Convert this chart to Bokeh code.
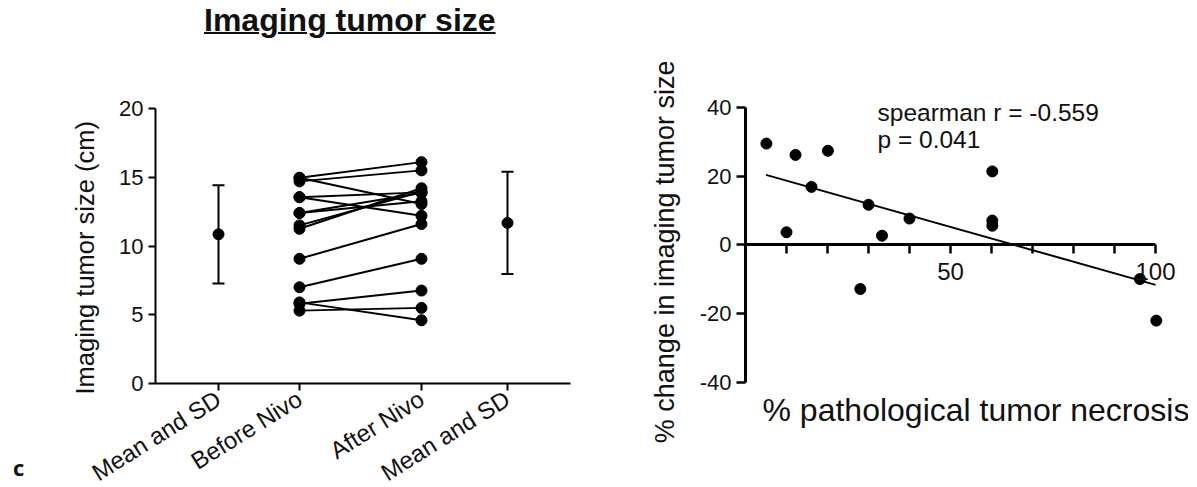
from bokeh.plotting import figure
from bokeh.models import FixedTicker, Whisker, TeeHead, ColumnDataSource, Label, Title, Div
from bokeh.layouts import row, column
from bokeh.embed import file_html
from bokeh.resources import INLINE

# ---------------- data ----------------
group_labels = ["Mean and SD", "Before Nivo", "After Nivo", "Mean and SD"]
before_nivo = [14.96, 14.70, 14.96, 13.55, 13.55, 12.40, 12.40, 11.50, 11.25, 9.07, 7.00, 5.80, 5.30, 5.90]
after_nivo = [16.10, 15.50, 13.05, 13.90, 12.20, 13.85, 13.25, 13.95, 14.20, 11.60, 9.07, 6.76, 5.50, 4.60]
summary_mean = [10.85, 11.68]
summary_sd = [3.57, 3.72]
left_yticks = [0, 5, 10, 15, 20]

necrosis_pct = [5.1, 10.0, 12.2, 16.1, 20.1, 28.0, 30.0, 33.3, 40.0, 60.2, 60.2, 60.2, 96.2, 100.2]
size_change_pct = [29.5, 3.7, 26.2, 16.9, 27.4, -12.8, 11.7, 2.7, 7.7, 21.4, 7.1, 5.6, -9.9, -22.0]
fit_x = [5.0, 100.0]
fit_y = [20.4, -11.6]
right_yticks = [-40, -20, 0, 20, 40]
right_ytick_labels = ["-40", "-20", "0", "20", "40"]
right_xticks_major = [50, 100]
right_xticks_minor = [10, 20, 30, 40, 60, 70, 80, 90]
stat_lines = ["spearman r = -0.559", "p = 0.041"]

# ---------------- layout constants ----------------
FONT = "Liberation Sans"
GROUP_POS = [63, 144, 266, 352]   # x positions of the four groups (px-like units)

# ---------------- panel letter + title ----------------
c_div = Div(
    text=("<div style=\"font-family:'Open Sans';font-weight:bold;font-size:22px;line-height:22px;"
          "margin-top:448px;margin-left:5px;color:#111\">c</div>"),
    width=20, height=470, margin=0,
)
title_div = Div(
    text=("<div style=\"font-family:'Liberation Sans';font-weight:bold;font-size:32px;"
          "line-height:32px;text-decoration:underline;text-decoration-thickness:2px;"
          "margin-left:176px;margin-top:-4px;white-space:nowrap;color:#111\">Imaging tumor size</div>"),
    width=552, height=40, margin=0,
)

# ---------------- left plot ----------------
p1 = figure(frame_width=415, frame_height=275, x_range=(0, 415), y_range=(0, 20),
            min_border_left=127, min_border_right=10, min_border_top=60, min_border_bottom=40,
            output_backend="svg", toolbar_location=None, outline_line_color=None)
p1.grid.visible = False

pair_src = ColumnDataSource(dict(
    x0=[GROUP_POS[1]] * len(before_nivo), x1=[GROUP_POS[2]] * len(after_nivo),
    y0=before_nivo, y1=after_nivo))
p1.segment(x0="x0", y0="y0", x1="x1", y1="y1", source=pair_src, line_color="black", line_width=2)
p1.scatter(x=[GROUP_POS[1]] * len(before_nivo), y=before_nivo, size=11, color="black")
p1.scatter(x=[GROUP_POS[2]] * len(after_nivo), y=after_nivo, size=11, color="black")

sum_src = ColumnDataSource(dict(
    x=[GROUP_POS[0], GROUP_POS[3]], y=summary_mean,
    lo=[m - s for m, s in zip(summary_mean, summary_sd)],
    hi=[m + s for m, s in zip(summary_mean, summary_sd)]))
p1.add_layout(Whisker(base="x", lower="lo", upper="hi", source=sum_src, line_width=2, line_color="black",
                      lower_head=TeeHead(size=12, line_width=2, line_color="black"),
                      upper_head=TeeHead(size=12, line_width=2, line_color="black")))
p1.scatter(x="x", y="y", source=sum_src, size=11, color="black")

for ax in (p1.xaxis[0], p1.yaxis[0]):
    ax.axis_line_width = 2
    ax.major_tick_line_width = 2
    ax.major_tick_out = 7
    ax.major_tick_in = 0
    ax.minor_tick_line_color = None
    ax.major_label_text_font = FONT
    ax.major_label_text_font_size = "22px"
    ax.major_label_text_color = "#111"

p1.yaxis.ticker = FixedTicker(ticks=left_yticks)
p1.yaxis.major_label_standoff = 5
p1.add_layout(Title(text="Imaging tumor size (cm)", align="left", offset=-11,
                    text_font=FONT, text_font_size="25.5px", text_font_style="normal",
                    text_color="#111", standoff=35), "left")

p1.xaxis.ticker = FixedTicker(ticks=GROUP_POS)
p1.xaxis.major_label_overrides = {pos: lab for pos, lab in zip(GROUP_POS, group_labels)}
p1.xaxis.major_label_orientation = 0.56
p1.xaxis.major_label_standoff = 6
p1.xaxis.major_label_text_font_size = "24px"

left_panel = column(title_div, p1, spacing=0)

# ---------------- right plot ----------------
p2 = figure(frame_width=435, frame_height=296, x_range=(0, 106.1), y_range=(-40, 46.1),
            min_border_left=165, min_border_right=8, min_border_top=78, min_border_bottom=75,
            output_backend="svg", toolbar_location=None, outline_line_color=None)
p2.grid.visible = False

p2.line(x=fit_x, y=fit_y, line_color="black", line_width=2)
p2.scatter(x=necrosis_pct, y=size_change_pct, size=11, color="black")

for ax in (p2.xaxis[0], p2.yaxis[0]):
    ax.axis_line_width = 3
    ax.major_tick_line_width = 2.5
    ax.minor_tick_line_width = 2.5
    ax.major_tick_out = 9
    ax.major_tick_in = 0
    ax.major_label_text_font = FONT
    ax.major_label_text_font_size = "22px"
    ax.major_label_text_color = "#111"

p2.yaxis.ticker = FixedTicker(ticks=right_yticks)
p2.yaxis.major_label_overrides = {t: s for t, s in zip(right_yticks, right_ytick_labels)}
p2.yaxis.bounds = (-40, 40)
p2.yaxis.minor_tick_line_color = None
p2.yaxis.major_label_standoff = 5
p2.add_layout(Title(text="% change in imaging tumor size", align="right", offset=-26,
                    text_font=FONT, text_font_size="27px", text_font_style="normal",
                    text_color="#111", standoff=33), "left")

p2.xaxis.fixed_location = 0
p2.xaxis.bounds = (0, 100)
p2.xaxis.ticker = FixedTicker(ticks=right_xticks_major, minor_ticks=right_xticks_minor)
p2.xaxis.minor_tick_out = 9
p2.xaxis.minor_tick_in = 0
p2.xaxis.major_label_text_font_size = "24px"
p2.xaxis.major_label_standoff = 9

p2.add_layout(Title(text="% pathological tumor necrosis", align="left", offset=17,
                    text_font=FONT, text_font_size="32px", text_font_style="normal",
                    text_color="#111", standoff=15), "below")

p2.add_layout(Label(x=32.2, y=38.5, text=stat_lines[0], text_font=FONT, text_font_size="24.5px",
                    text_color="#111", text_baseline="alphabetic"))
p2.add_layout(Label(x=32.2, y=30.6, text=stat_lines[1], text_font=FONT, text_font_size="24.5px",
                    text_color="#111", text_baseline="alphabetic"))

layout = row(c_div, left_panel, p2, spacing=0)
layout.margin = (8, 0, 0, 8)

open("out.html", "w").write(file_html(layout, INLINE))
